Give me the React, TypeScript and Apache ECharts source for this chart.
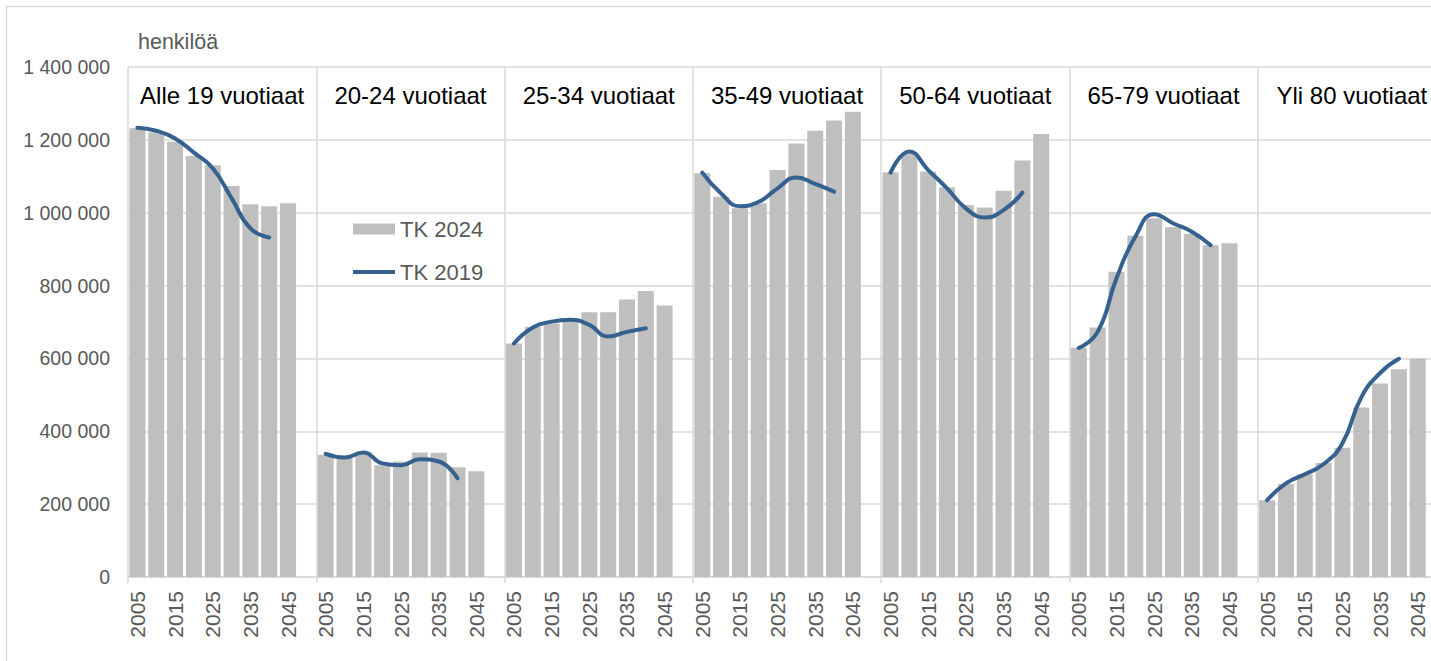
import React, { useEffect, useRef } from "react";
import * as echarts from "echarts";

const YEARS = ["2005", "2010", "2015", "2020", "2025", "2030", "2035", "2040", "2045"];
const GROUPS = [
  "Alle 19 vuotiaat",
  "20-24 vuotiaat",
  "25-34 vuotiaat",
  "35-49 vuotiaat",
  "50-64 vuotiaat",
  "65-79 vuotiaat",
  "Yli 80 vuotiaat",
];

// TK 2024 (bars), 2005..2045
const TK2024_ALLE19 = [1232000, 1220000, 1195000, 1156000, 1130000, 1073000, 1023000, 1018000, 1026000];
const TK2024_20_24 = [335000, 328000, 344000, 307000, 317000, 342000, 341000, 301000, 290000];
const TK2024_25_34 = [641000, 687000, 696000, 705000, 727000, 727000, 762000, 785000, 745000];
const TK2024_35_49 = [1108000, 1044000, 1012000, 1026000, 1117000, 1190000, 1225000, 1253000, 1277000];
const TK2024_50_64 = [1111000, 1163000, 1113000, 1070000, 1021000, 1014000, 1060000, 1143000, 1216000];
const TK2024_65_79 = [629000, 685000, 838000, 937000, 985000, 960000, 942000, 911000, 916000];
const TK2024_YLI80 = [211000, 255000, 282000, 313000, 355000, 465000, 531000, 570000, 600000];

// TK 2019 (line), 2005..2040
const TK2019_ALLE19 = [1233000, 1225000, 1204000, 1165000, 1122000, 1040000, 957000, 932000];
const TK2019_20_24 = [338000, 328000, 342000, 312000, 307000, 323000, 317000, 271000];
const TK2019_25_34 = [641000, 685000, 701000, 706000, 692000, 660000, 673000, 683000];
const TK2019_35_49 = [1110000, 1053000, 1018000, 1030000, 1067000, 1097000, 1079000, 1058000];
const TK2019_50_64 = [1110000, 1168000, 1117000, 1067000, 1012000, 987000, 1007000, 1055000];
const TK2019_65_79 = [629000, 673000, 820000, 934000, 996000, 971000, 948000, 911000];
const TK2019_YLI80 = [211000, 257000, 282000, 310000, 367000, 493000, 560000, 599000];

const Y_TICKS = [0, 200000, 400000, 600000, 800000, 1000000, 1200000, 1400000];

const TK2024 = [TK2024_ALLE19, TK2024_20_24, TK2024_25_34, TK2024_35_49, TK2024_50_64, TK2024_65_79, TK2024_YLI80];
const TK2019 = [TK2019_ALLE19, TK2019_20_24, TK2019_25_34, TK2019_35_49, TK2019_50_64, TK2019_65_79, TK2019_YLI80];

const FONT = "'Liberation Sans', Arial, sans-serif";
const GRID = "#d9d9d9";
const GREY_TEXT = "#595959";
const LINE_COLOR = "#35618f";

export default function App() {
  const ref = useRef<HTMLDivElement>(null);

  useEffect(() => {
    if (!ref.current) return;
    const chart = echarts.init(ref.current, undefined, { renderer: "svg" });

    const categories: string[] = [];
    const barData: (number | null)[] = [];
    const lineData: (number | null)[] = [];
    GROUPS.forEach((_, g) => {
      YEARS.forEach((y, i) => {
        categories.push(y);
        barData.push(TK2024[g][i]);
        lineData.push(i < TK2019[g].length ? TK2019[g][i] : null);
      });
      categories.push("");
      barData.push(null);
      lineData.push(null);
    });

    const fmt = (v: number) => String(v).replace(/\B(?=(\d{3})+(?!\d))/g, " ");

    chart.setOption({
      animation: false,
      backgroundColor: "#ffffff",
      textStyle: { fontFamily: FONT },
      grid: { left: 128, right: 4, top: 67, bottom: 84, containLabel: false },
      legend: {
        orient: "vertical",
        left: 353,
        top: 218,
        padding: 0,
        itemWidth: 42,
        itemHeight: 11,
        itemGap: 21,
        data: [
          { name: "TK 2024", icon: "rect" },
          { name: "TK 2019", icon: "path://M0,0H42V4H0Z" },
        ],
        textStyle: { fontSize: 22, color: GREY_TEXT, fontFamily: FONT },
      },
      graphic: [
        {
          type: "text",
          left: 138,
          top: 31,
          style: { text: "henkilöä", fontSize: 21.5, fill: GREY_TEXT, fontFamily: FONT },
        },
        {
          type: "line",
          shape: { x1: 6.5, y1: 6.5, x2: 1450, y2: 6.5 },
          style: { stroke: GRID, lineWidth: 1.5 },
        },
        {
          type: "line",
          shape: { x1: 6.5, y1: 6.5, x2: 6.5, y2: 661 },
          style: { stroke: GRID, lineWidth: 1.5 },
        },
      ],
      xAxis: [
        {
          type: "category",
          data: categories,
          boundaryGap: true,
          axisLine: { show: true, lineStyle: { color: GRID, width: 1.5 } },
          axisTick: {
            show: true,
            length: 6,
            interval: (idx: number) => idx % 10 === 0,
            lineStyle: { color: GRID, width: 1.5 },
          },
          splitLine: {
            show: true,
            interval: (idx: number) => idx % 10 === 0,
            lineStyle: { color: GRID, width: 1.5 },
          },
          axisLabel: {
            interval: 1,
            rotate: 90,
            margin: 14,
            fontSize: 21,
            color: GREY_TEXT,
            fontFamily: FONT,
          },
        },
        {
          type: "category",
          data: GROUPS,
          position: "top",
          boundaryGap: true,
          axisLine: { show: false },
          axisTick: { show: false },
          splitLine: { show: false },
          axisLabel: {
            inside: true,
            interval: 0,
            margin: 28,
            verticalAlign: "middle",
            fontSize: 24,
            color: "#000000",
            fontFamily: FONT,
          },
        },
      ],
      yAxis: {
        type: "value",
        min: Y_TICKS[0],
        max: Y_TICKS[Y_TICKS.length - 1],
        interval: Y_TICKS[1] - Y_TICKS[0],
        axisLine: { show: false },
        axisTick: { show: false },
        splitLine: { show: true, lineStyle: { color: GRID, width: 1.5 } },
        axisLabel: {
          margin: 18,
          fontSize: 19.5,
          color: GREY_TEXT,
          fontFamily: FONT,
          formatter: (v: number) => fmt(v),
        },
      },
      series: [
        {
          name: "TK 2024",
          type: "bar",
          data: barData,
          barCategoryGap: "15%",
          itemStyle: { color: "#bfbfbf" },
          z: 2,
        },
        {
          name: "TK 2019",
          type: "line",
          data: lineData,
          smooth: 0.5,
          connectNulls: false,
          symbol: "none",
          showSymbol: false,
          lineStyle: { color: LINE_COLOR, width: 4, cap: "round" },
          itemStyle: { color: LINE_COLOR },
          z: 3,
        },
      ],
    });

    return () => chart.dispose();
  }, []);

  return (
    <div
      ref={ref}
      style={{ position: "fixed", left: 0, top: 0, width: 1450, height: 661, background: "#fff" }}
    />
  );
}
